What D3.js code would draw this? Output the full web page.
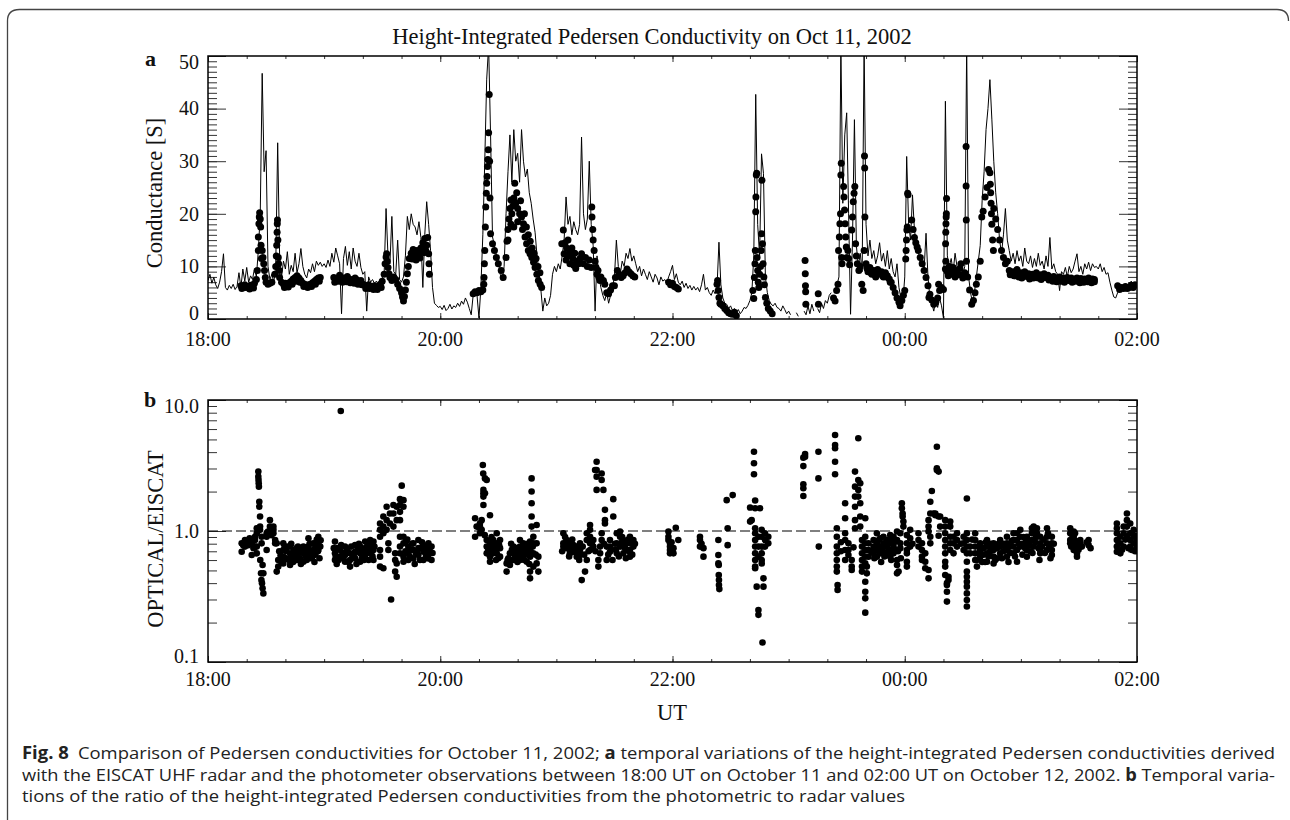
<!DOCTYPE html>
<html>
<head>
<meta charset="utf-8">
<script src="https://cdn.jsdelivr.net/npm/d3@7"></script>
<style>
  body { margin: 0; background: #fff; }
  svg text { fill: #111; }
  .serif { font-family: "Liberation Serif", "DejaVu Serif", serif; }
  .cap { font-family: "Open Sans", "Noto Sans", sans-serif; font-size: 17px; fill: #222; }
</style>
</head>
<body>
<div id="chart"></div>
<script>
// ---- data (time = minutes after 18:00 UT on Oct 11) ----
const xTickMinutes = [0, 120, 240, 360, 480];
const xTickLabels  = ["18:00", "20:00", "22:00", "00:00", "02:00"];
const condTicks    = [0, 10, 20, 30, 40, 50];
const ratioTicks   = [0.1, 1, 10];
const ratioTickLabels = ["0.1", "1.0", "10.0"];

// EISCAT conductance, one value per minute from 18:00 (null = no data)
const condLine = [
  7.3, 8.5, 6.8, 7.9, 6.5, 5.8, 7.0, 9.0, 12.4, 6.0, 5.5, 6.4, 5.8, 6.6, 5.6, 6.2, 8.8, 6.0, 9.5, 7.2,
  9.8, 7.0, 8.2, 7.5, 9.6, 8.0, 13.0, 20.0, 46.7, 28.0, 32.0, 10.0, 7.5, 8.5, 7.0, 10.0, 33.5, 12.0, 8.0, 11.0,
  9.5, 12.8, 8.5, 10.2, 9.0, 12.5, 8.8, 10.5, 13.4, 10.0, 8.5, 7.8, 9.5, 8.8, 10.5, 9.0, 11.0, 10.2, 10.8, 10.0,
  10.5, 9.8, 11.2, 10.0, 12.5, 10.8, 13.5, 12.0, 10.5, 1.0, 11.5, 13.8, 10.2, 12.8, 9.5, 13.5, 11.0, 10.0, 12.5, 9.8,
  8.5, 9.0, 1.5, 8.0, 7.0, 7.5, 6.8, 7.2, 6.5, 7.0, 7.8, 8.5, 21.0, 12.0, 10.5, 19.5, 9.0, 8.5, 15.0, 7.5,
  7.0, 8.0, 12.0, 19.5, 17.0, 20.0, 18.0, 17.5, 16.0, 18.5, 15.5, 6.0, 16.0, 22.3, 18.0, 13.0, 6.0, 3.0, 2.6, 2.2,
  2.4, 1.8, 2.6, 1.6, 2.0, 2.8, 1.9, 2.5, 2.2, 3.0, 2.4, 3.4, 2.8, 4.0, 3.2, 2.0, 0.8, 4.5, 5.0, 4.5,
  0.2, 6.0, 16.0, 30.0, 45.6, 52, 35.0, 15.6, 14.0, 12.0, 11.0, 8.5, 7.3, 10.0, 20.0, 28.0, 35.0, 26.0, 36.0, 30.0,
  31.5, 26.0, 36.0, 30.0, 27.0, 28.5, 24.0, 22.0, 19.0, 16.5, 12.0, 9.0, 5.5, 1.5, 4.0, 2.5, 3.0, 4.5, 8.5, 10.0,
  9.0, 10.5, 9.5, 12.0, 15.0, 23.2, 18.0, 19.5, 16.0, 18.5, 17.0, 16.0, 18.0, 34.6, 20.0, 17.0, 19.0, 30.0, 18.0, 14.0,
  1.5, 12.0, 8.0, 6.0, 4.5, 3.5, 5.0, 3.0, 4.5, 6.0, 8.0, 15.0, 10.0, 8.5, 11.0, 10.0, 12.5, 11.5, 13.4, 11.0,
  12.0, 10.5, 9.0, 10.0, 8.2, 9.5, 8.5, 7.5, 9.0, 8.0, 7.0, 8.5, 7.8, 6.5, 8.0, 7.2, 7.5, 6.8, 8.0, 9.0,
  10.2, 7.5, 8.6, 7.0, 6.5, 7.2, 6.0, 6.8, 5.8, 6.4, 5.5, 6.2, 5.5, 6.0, 5.2, 6.5, 8.5, 5.5, 6.0, 5.0,
  4.5, 5.5, 4.8, 6.0, 14.6, 6.5, 4.0, 3.0, 2.8, 2.0, 2.5, 1.6, 2.0, 1.2, 1.8, 1.0, 1.5, 2.2, 2.0, 2.6,
  3.5, 5.0, 12.0, 42.7, 18.0, 12.0, 31.4, 27.7, 8.0, 5.0, 3.5, 2.8, 2.5, 3.0, 2.2, 2.0, 1.5, 2.5, 1.8, 1.0,
  1.5, 0.8, null, null, 1.2, 0.5, null, null, 1.5, 0.8, 2.5, 1.0, 2.8, 1.5, null, 2.0, 1.2, 3.0, 2.0, 3.5,
  3.0, 4.5, 5.0, null, 5.5, 6.5, 8.0, 52, 22.0, 35.0, 39.2, 20.0, 0.9, 15.0, 37.9, 14.0, 10.0, 12.5, 9.0, 52,
  18.0, 12.0, 15.0, 11.5, 13.0, 10.5, 12.0, 14.5, 11.0, 12.5, 10.0, 13.0, 9.5, 11.5, 9.0, 8.0, 10.5, 6.0, 4.0, 3.0,
  8.0, 30.9, 18.0, 15.0, 23.6, 17.0, 14.0, 13.0, 10.5, 12.0, 9.5, 16.3, 8.0, 4.0, 3.0, 1.5, 3.5, 2.2, 4.0, 2.5,
  0.2, 41.4, 12.0, 10.0, 11.5, 9.0, 12.5, 10.0, 9.5, 11.0, 8.5, 10.0, 52, 8.0, 5.0, 3.0, 5.0, 8.0, 11.0, 14.0,
  22.6, 28.0, 36.0, 40.0, 45.5, 38.0, 30.0, 24.0, 20.0, 15.0, 12.5, 16.0, 21.0, 15.0, 13.0, 11.0, 12.5, 10.5, 13.0, 11.0,
  12.0, 10.0, 13.5, 11.0, 10.5, 12.0, 9.8, 11.5, 10.0, 12.5, 10.2, 11.0, 9.5, 12.0, 10.0, 15.5, 9.5, 10.5, 9.0, 8.5,
  5.4, 9.0, 8.5, 9.8, 8.0, 10.0, 8.8, 9.5, 11.0, 12.4, 9.0, 10.0, 8.5, 10.5, 9.5, 10.8, 9.2, 10.5, 9.8, 10.0,
  9.5, 10.5, 9.0, 9.8, 8.5, 8.8, 7.0, 5.5, 4.2, 4.0, 5.0, 5.8, 5.2, 6.2, 5.5, 6.5, 6.0, 7.2, 6.5, 7.0, 6.8
];

// photometer conductance [minute, S]
const condDots = [
  [17,6.3],[18,6.0],[19,6.5],[20,6.2],[21,6.0],[22,6.4],[23,6.3],[24,6.8],[25,7.5],
  [17.5,5.8],[19.5,6.0],[21.5,5.7],[23.5,5.9],
  [25.5,9.2],[26,13],[26,15.6],[26.3,18.1],[26.5,19.4],[26.7,20.2],[27,19],[27.2,17.5],[27.4,14],[27.6,11.5],[28,13],[28.4,11.7],[28.8,10.5],[29.2,9.2],[29.6,7.9],[30,7],[31,6.6],[32,6.8],[33,7],
  [34.5,8.5],[35,10],[35.3,12],[35.5,14],[35.7,16.5],[35.8,18.1],[35.9,18.8],[36.1,15],[36.3,11.7],[36.5,10.5],[36.8,9.2],[37,7.9],[38,7],
  [39,6.6],[40,6.8],[41,6.5],[42,6.9],[43,7.2],[44,7.6],[45,7.9],[46,8.2],[47,7.8],[48,7.3],[49,6.8],[50,6.6],[51,6.3],[52,6.5],[53,6.6],[54,6.9],[55,7.2],[56,7.5],[57,7.8],[58,7.9],
  [39.5,6.0],[41.5,6.1],[43.5,6.6],[45.5,7.2],[47.5,7.0],[49.5,6.2],[51.5,6.0],[53.5,6.2],[55.5,6.6],[57.5,7.2],
  [65,7.9],[66,7.5],[67,7.8],[68,8.3],[69,7.9],[70,7.5],[71,7.8],[72,8.1],[73,7.6],[74,7.3],[75,7.5],[76,7.8],[77,7.4],[78,7.1],[79,7.3],[80,6.6],[81,6.4],[82,6.2],[83,6.5],[84,6.0],[85,6.2],[86,6.3],[87,6.0],[88,6.2],[89,6.6],[90,7.2],
  [65.5,7.0],[67.5,7.2],[69.5,7.0],[71.5,7.1],[73.5,6.9],[75.5,6.8],[77.5,6.6],[79.5,6.5],[81.5,5.8],[83.5,5.8],[85.5,5.6],[87.5,5.6],[89.5,6.0],
  [91,8.5],[91.5,10.5],[92,11.8],[92.3,12.4],[92.6,11],[93,9.8],[93.5,8.6],[94,7.9],[95,7.3],[96,8.0],[97,7.5],[98,6.6],[99,5.8],[100,5.0],[100.5,4.2],[101,3.4],[101.5,4.3],[102,5.5],[102.5,7.0],[103,8.6],[103.5,10],[104,11.5],[105,12.5],[106,13.2],[107,12.0],[108,13.0],[109,12.4],[110,13.5],[111,14.5],[112,15.3],[112.5,13.0],[113,14.0],[113.5,15.5],[114,12.4],[114.2,10.5],[114.4,8.5],
  [105.5,11.4],[107.5,11.2],[109.5,11.6],[111.5,12.6],
  [137,4.8],[138,5.2],[139,5.0],[140,5.4],[141,5.2],[142,5.5],
  [142.5,6.6],[142.6,7.9],[142.8,10.5],[143,13],[143.3,17.5],[143.5,21.3],[143.8,23.9],[144,25.8],[144.2,27.1],[144.4,29],[144.6,30.3],[144.8,32.2],[145,35.4],[145.3,42.7],[145.5,30],[145.7,23],
  [146,16.2],[147,14.3],[148,13],[149,11.7],[150,10.5],[151.5,9.2],[152.5,7.9],
  [154,11.7],[154.5,14.8],[155,17],[155.5,19],[156,21],[156.5,22.6],[157,20],[157.5,21.5],[158,23],[158.5,25.8],[159,22],[159.5,24],[160,21],[161,20],[162,19.4],
  [155,15],[156.5,18],[158,17.5],[160,18.5],[161.5,22.5],[162.5,17],
  [163,18.1],[163.8,15.6],[164.6,14.3],[165.5,13],[166.4,12.4],[167.3,11.7],[168.2,10.8],[169,9.8],[169.9,8.5],[170.7,7.3],[171.6,6.6],[172.4,6],
  [163.5,20],[164.5,17.5],[165.5,16],[166.5,14.8],[167.5,13.5],[168.5,12.5],[169.5,11.5],[170.5,10],[171.5,8.8],
  [182.8,14.3],[183.6,16.9],[184.5,14.5],[185.3,13.5],[186,15],[186.8,13],[187.5,12],[188.5,11.5],[189.5,12.5],[190.5,11],[191.5,10.5],[192.2,11.5],
  [184,12.4],[185,11.2],[186,12],[187,10.5],[188,13.5],[189,10.2],[190,9.6],
  [193,12.4],[194,10.5],[195,11.7],[196,10],[197,11.2],[198,9.8],[198.3,21.3],[198.4,19.4],[198.8,17],[199,15],
  [199.5,13],[200,11],[200.5,9.8],[201,8.5],[201.5,9.2],[202,7.9],[202.5,7.3],[203,8],
  [204.3,7.3],[205,6.6],[206,5],[207,4.8],[208,5.5],[209,6.3],[210,6.3],
  [210.5,7.9],[211.5,9.2],[212.5,8.5],[213.5,7.9],[214.5,8.2],[215.5,8.8],[216.5,9.5],[217.5,9],[218.5,8.6],[219.5,8.2],[220.5,8],
  [238,7],[239,6.5],[240,6.8],[241,6.2],[242,6],[243,5.7],
  [263,6.6],[263.3,7.3],[263.6,5.4],[264,4.1],[264.5,3],[265,2.8],
  [266,2.5],[267,2],[268,1.6],[269,1.2],[270,1],[271,0.9],[272,1.3],[273,0.6],
  [281.5,5.4],[282,3.9],[282.3,7.9],[282.6,10.5],[282.8,13],[283,20.4],[283.1,23.2],[283.3,27.4],[283.5,27.7],[283.7,11.7],[284,9.2],[284.3,7],[284.6,6],[285,8.5],[285.5,10],[285.8,13],[286,16.2],[286.2,26.4],[286.5,14.3],[286.8,10.5],[287.2,8],[287.5,6.5],
  [288,4.1],[288.7,3],[289.5,2],[290.5,1.5],[291.5,1],
  [308.5,11.1],[308.6,8.6],[308.7,6.3],[308.8,5.2],[308.9,2.8],
  [315.3,4.8],[315.4,2.8],
  [323.2,4],[324,3.4],[324.8,5.4],[325.5,6.6],[325.8,13],[326.2,15.6],[326.5,18.1],[326.8,20],[327,27.4],[327.2,29.6],[327.4,11.7],[327.6,10.5],
  [328.4,25.2],[328.6,23.2],[328.9,20.7],[329.2,18.1],[329.5,15.6],[329.8,13.7],[330.1,11.7],[330.6,13],[331,11.5],[331.5,10.3],
  [332.6,16.9],[333,19.4],[333.4,22.3],[333.8,23.9],[334.2,25.2],[334.6,14.3],[335,12],
  [335.5,10.5],[336.3,9.2],[337,10],[337.8,6.6],[338.5,5.4],[339,13],
  [339.2,31],[339.3,28.7],[339.4,19.4],
  [340,10.5],[341,9],[342,9.8],[343,8.5],[344,9.2],[345,8],[346,9.4],[347,8.6],[348,9],[349,8],[350,8.8],[351,8.2],[352,7.6],[353,7],[354,6],[355,5],[356,4],[357,3.2],[357.6,2.5],
  [340.5,9.6],[342.5,8.8],[344.5,8.4],[346.5,8.6],[348.5,8.2],[350.5,8],[352.5,7.0],
  [358.5,3.5],[359.3,4.5],[360,5.4],
  [360.5,11.4],[360.7,13],[360.9,15],[361.1,16.9],[361.3,17.5],[361.5,23.9],[361.7,23.6],
  [363.6,18.8],[364.3,17],[365,15.5],[365.7,14.5],[366.4,13.7],
  [367,13],[368,11.7],[369,10.5],[370,9.2],[371,7.9],[372,6.3],[372.5,4.1],
  [373,4.7],[374,3.6],[375,2.8],[376,3.2],[377,4],[377.5,6.6],
  [378,5.4],[379,6],[380,5.6],
  [381,9.5],[381.1,14.3],[381.2,11],[381.2,16.5],[381.3,18.1],[381.4,19.4],[381.5,20],[381.6,22.9],
  [382,9],[383,10],[384,8.5],[385,9.8],[386,8],[387,9.2],[388,8.4],[389,10.5],[390,7.8],[391,8.8],
  [382.5,8.2],[384.5,9.2],[386.5,8.8],[388.5,9.6],[390.5,8.5],
  [391.7,32.8],[391.7,25.3],[391.8,18.8],[391.9,11],
  [392.5,8],[393.5,5.5],[394.6,2.8],[395.5,3.5],[396.3,5],[397,6.6],[398,8],[399,11],
  [399.8,19.4],[400.5,20.5],[401.5,23.2],[402.5,25],[403.3,28.4],[404,27.8],[404.2,25.6],[404.4,24],[404.6,22],[404.8,20],[405,18],[405.4,15],[405.8,13],
  [406,21],[407,19],[408,17],[409,15],[410,13],
  [411,11.7],[412,10.5],[413,11],
  [414,9.2],[415,8.5],[416,9],[417,8.2],[418,9.4],[419,8],[420,8.8],[421,8.3],[422,9],[423,8.1],[424,8.6],[425,7.9],[426,8.5],[427,8],[428,8.8],[429,7.8],[430,8.4],[431,8],[432,8.6],[433,7.9],[434,8.3],[435,8],[436,7.8],[437,8.1],
  [438,7.8],[439,7.5],[440,8],[441,7.6],[442,7.8],[443,7.4],[444,7.9],[445,7.5],[446,7.8],[447,7.3],[448,7.6],[449,7.8],[450,7.4],[451,7.7],[452,7.3],[453,7.6],[454,7.5],[455,7.8],[456,7.4],[457,7.6],[458,7.5],
  [414.5,8.4],[416.5,8.2],[418.5,8.6],[420.5,7.8],[422.5,8.3],[424.5,7.6],[426.5,7.8],[428.5,8],[430.5,7.5],[432.5,7.9],[434.5,7.4],[436.5,7.2],
  [438.5,7.1],[440.5,7.2],[442.5,7.0],[444.5,7.3],[446.5,7.0],[448.5,7.2],[450.5,6.9],[452.5,7.0],[454.5,7.1],[456.5,6.9],[458,7.1],
  [470,6.3],[471,5.6],[472,6],[473,5.8],[474,6.2],[475,5.8],[476,6],[477,6.4],[478,6],[479,6.5]
];

// OPTICAL / EISCAT ratio [minute, ratio]
const ratioDots = [
  [17.4,0.805],[17.4,0.695],[19.1,0.854],[19.1,0.76],[20.8,0.83],[20.8,0.78],[22.6,0.805],[22.6,0.656],[24.3,0.854],[24.3,0.76],[24.3,0.905],[18.2,0.78],[21.5,0.88],[23.5,0.74],
  [26.0,2.84],[26.0,2.6],[26.1,2.45],[26.2,2.31],[26.3,2.18],[26.5,1.67],[26.5,1.53],[26.9,1.29],[26.9,1.08],[26.9,1.02],[25.2,1.05],[25.2,0.96],[25.2,0.76],[25.2,0.675],[27.7,0.905],[27.7,0.805],
  [27.0,0.60],[27.4,0.475],[27.6,0.422],[27.9,0.40],[28.2,0.365],[28.6,0.334],[28.6,0.475],[28.2,0.55],
  [30.3,0.905],[30.3,0.96],[30.3,0.716],[32.0,1.21],[32.0,1.08],[33.8,1.08],[33.8,1.02],[33.8,0.96],[34.7,0.854],[34.7,0.805],[35.5,0.805],[35.5,0.49],[31,0.99],[32.8,0.93],
  [36.3,0.60],[36.3,0.535],[38.9,0.805],[38.9,0.716],[38.9,0.637],[38.9,0.566],[42.4,0.76],[42.4,0.675],[42.4,0.55],[45.8,0.74],[45.8,0.675],[45.8,0.60],[49.3,0.76],[49.3,0.675],[49.3,0.583],[51.9,0.88],[51.9,0.76],[51.9,0.675],[54.4,0.805],[54.4,0.716],[57.0,0.905],[57.0,0.805],[57.0,0.716],
  [37.5,0.65],[40.5,0.70],[40.5,0.62],[41.2,0.76],[43.5,0.64],[44.3,0.72],[47,0.68],[47.5,0.62],[48.2,0.72],[50.5,0.64],[50.5,0.72],[53,0.7],[53,0.62],[55.5,0.76],[55.5,0.66],[56.2,0.86],[58,0.76],
  [36.8,0.7],[37.9,0.58],[39.6,0.76],[41.8,0.6],[43,0.8],[44,0.58],[45.2,0.66],[46.5,0.76],[48,0.56],[49.8,0.7],[51,0.6],[52.5,0.8],[54,0.64],[55,0.58],[56.8,0.7],[57.6,0.62],[58.2,0.85],
  [68.6,8.24],
  [65.6,0.83],[65.6,0.675],[65.6,0.60],[68.2,0.716],[68.2,0.637],[70.8,0.76],[70.8,0.656],[70.8,0.583],[73.4,0.675],[73.4,0.535],[73.4,0.60],[76,0.78],[76,0.695],[76,0.618],[78.6,0.76],[78.6,0.675],[78.6,0.583],[81.2,0.83],[81.2,0.74],[81.2,0.656],[83.8,0.854],[83.8,0.76],[83.8,0.675],[85.5,0.83],[85.5,0.716],[85.5,0.60],
  [67,0.74],[69.5,0.68],[72,0.72],[74.7,0.64],[77.3,0.72],[80,0.70],[82.5,0.79],[84.6,0.7],[66.5,0.56],[79.5,0.62],
  [65,0.74],[66,0.64],[67.5,0.6],[68.8,0.78],[70,0.62],[71.5,0.7],[72.6,0.58],[74,0.76],[75.3,0.66],[76.7,0.56],[78,0.8],[79,0.7],[80.6,0.6],[82,0.7],[83,0.6],[84.2,0.8],[85,0.64],[86,0.76],
  [88.9,1.14],[88.9,1.02],[88.9,0.905],[90.6,1.29],[90.6,1.08],[90.6,0.96],[92.3,1.53],[92.3,1.21],[92.3,1.02],[94,1.36],[94,1.14],[95.8,1.58],[95.8,1.36],[95.8,1.08],[97.5,1.53],[97.5,1.21],[99.2,1.75],[99.2,1.58],[99.2,1.4],[99.2,1.21],[100.1,2.22],[101,1.72],[101,1.53],
  [88.9,0.716],[88.9,0.637],[88.9,0.535],[90.6,0.519],[93.2,0.805],[93.2,0.716],[94.6,0.3],[96.7,0.675],[96.7,0.60],[96.7,0.49],[97.5,0.448],[97.5,0.566],[99.2,0.905],[99.2,0.76],[99.2,0.675],[101,0.905],[101,0.805],[101,0.637],[101,0.583],
  [103.5,0.76],[103.5,0.675],[103.5,0.60],[106.1,0.805],[106.1,0.716],[106.1,0.618],[108.7,0.854],[108.7,0.74],[108.7,0.656],[111.3,0.78],[111.3,0.695],[111.3,0.60],[113.9,0.805],[113.9,0.675],[113.9,0.618],[115.5,0.76],[115.5,0.60],
  [104.8,0.72],[107.4,0.68],[110,0.74],[112.6,0.64],[102.3,0.83],
  [102,0.7],[103,0.86],[104.2,0.64],[105.5,0.8],[106.8,0.56],[108,0.7],[109.5,0.6],[110.6,0.82],[112,0.72],[113.2,0.76],[114.6,0.7],[116,0.68],
  [138,1.25],[138,0.905],[138.8,1.08],[140.5,1.14],[140.5,1.08],[140.5,1.05],[140.5,0.96],[141.4,1.21],[141.4,1.02],[142,3.19],[142.2,2.75],[142.3,2.06],[142.3,1.94],[142.3,1.83],[142.3,1.58],[143.1,2.52],[143.1,1.94],[144,2.45],[145.7,1.32],
  [144,0.854],[144,0.76],[144,0.675],[145.7,0.805],[145.7,0.716],[145.7,0.637],[145.7,0.583],[147.4,0.854],[147.4,0.76],[147.4,0.675],[149.2,0.96],[149.2,0.805],[149.2,0.675],[150.9,0.854],[150.9,0.74],[150.9,0.637],[143,0.93],[146.5,0.9],[148.3,0.72],[150,0.62],
  [144.8,0.72],[146.8,0.8],[148.8,0.6],[150.4,0.78],
  [154.3,0.49],[154.3,0.566],[156,0.675],[156,0.60],[156,0.55],[157.8,0.76],[157.8,0.675],[157.8,0.60],[159.5,0.74],[159.5,0.637],[161.2,0.854],[161.2,0.76],[161.2,0.675],[161.2,0.60],[162.9,0.805],[162.9,0.716],[162.9,0.637],[164.7,0.76],[164.7,0.675],[164.7,0.583],[166.4,0.83],[166.4,0.716],[166.4,0.637],[166.4,0.49],[166.4,0.435],
  [167.2,2.52],[167.2,2.0],[167.2,1.63],[167.2,1.29],[167.2,1.08],[168.1,0.905],[168.1,0.805],[168.1,0.675],[168.1,0.535],[169.8,1.11],[169.8,0.805],[169.8,0.566],[170.7,0.637],[170.7,0.49],
  [155.2,0.62],[157,0.72],[158.6,0.64],[160.3,0.70],[162,0.66],[163.8,0.74],[165.5,0.66],
  [154.8,0.6],[156.6,0.8],[158.2,0.7],[159.9,0.58],[161.7,0.72],[163.4,0.6],[165,0.8],[166,0.56],[167.8,0.76],[169.3,0.66],
  [183.6,0.96],[183.6,0.805],[183.6,0.76],[185.3,0.854],[185.3,0.74],[187,0.805],[187,0.716],[187,0.675],[188.8,0.78],[188.8,0.695],[190.5,0.76],[190.5,0.675],[190.5,0.637],[192.2,0.805],[192.2,0.716],[192.2,0.656],[193.1,0.422],[194.8,0.49],
  [195.7,0.60],[195.7,0.854],[195.7,0.96],[197.4,1.11],[197.4,1.02],[197.4,0.905],[197.4,0.805],[197.4,0.716],[199.1,0.854],[199.1,0.76],
  [200,2.92],[200.8,3.38],[200.8,2.92],[200.8,2.6],[200.8,2.06],[203.4,2.75],[203.4,2.45],[204.3,2.06],[205.1,1.45],[205.1,1.21],[205.1,1.14],[209.4,1.75],[209.4,1.29],
  [203.4,0.96],[203.4,0.854],[201.7,0.535],[201.7,0.60],[202.6,0.76],[202.6,0.675],[206,0.60],[206,0.76],[207.7,0.854],[207.7,0.76],[207.7,0.695],[211.2,0.96],[211.2,0.805],[211.2,0.675],[212.9,0.99],[212.9,0.905],[212.9,0.76],
  [214.6,0.854],[214.6,0.76],[214.6,0.675],[216.3,0.805],[216.3,0.716],[218,0.905],[218,0.805],[218,0.716],[218,0.637],[219.8,0.854],[219.8,0.76],
  [184.5,0.9],[186.2,0.78],[189.6,0.74],[191.3,0.7],[208.5,0.72],[210.3,0.8],[213.8,0.82],[215.5,0.74],[217.2,0.86],[198.3,0.8],
  [183,0.7],[184.8,0.8],[186.6,0.64],[188.2,0.86],[190,0.7],[191.8,0.6],[193.6,0.76],[194.4,0.66],[196.6,0.7],[200.2,0.7],[204.6,0.8],[206.8,0.66],[209,0.6],[210.8,0.72],[212.3,0.64],[214,0.9],[215.9,0.62],[217.6,0.7],[219.2,0.66],[220.6,0.8],
  [237.9,0.99],[237.9,0.905],[237.9,0.854],[238.7,0.805],[238.7,0.76],[238.7,0.716],[238.7,0.675],[240.5,0.675],[240.5,0.74],[241.7,1.06],[243,0.854],[239.5,0.82],
  [254.2,0.905],[254.2,0.854],[254.2,0.76],[256,0.74],[256,0.637],[255,0.8],
  [263.7,0.854],[263.7,0.656],[263.7,0.566],[263.9,0.55],[263.9,0.461],[264,0.422],[264,0.387],[264.2,0.36],
  [268,1.72],[268.5,1.05],[268.5,0.78],[271.1,1.88],
  [282.1,4.03],[282.1,3.29],[282.1,2.71],[282.7,1.71],[282.7,1.49],[280.1,1.51],[280.1,1.18],[280.9,1.21],[285.2,1.49],
  [282.7,1.05],[282.7,0.96],[282.7,0.854],[282.7,0.76],[282.7,0.675],[282.7,0.60],[282.7,0.535],[282.7,0.519],[284.4,0.905],[284.4,0.76],[284.4,0.637],
  [286.1,1.02],[286.1,0.905],[286.1,0.76],[286.1,0.675],[286.1,0.60],[286.1,0.566],[287.8,0.96],[287.8,0.854],[287.8,0.76],[289.5,0.905],[289.5,0.805],
  [283.5,0.376],[287,0.435],[287,0.376],[284.4,0.249],[284.4,0.229],[286.5,0.141],
  [307.6,3.63],[307.6,3.13],[307.6,2.27],[307.6,2.12],[307.6,1.85],[308.5,3.87],[308.5,3.69],[315.4,4.03],[315.4,2.52],[315.6,0.76],
  [324,5.4],[324,4.53],[324,4.28],[324,3.38],[324,2.71],[324.9,1.05],[324.9,0.905],[324.9,0.76],[324.9,0.675],[324.9,0.60],[324.9,0.535],[324.9,0.49],[325.3,0.387],[325.3,0.355],
  [329.2,1.63],[329.2,1.25],[329.2,0.96],[329.2,0.854],[329.2,0.716],[329.2,0.60],[330.9,0.805],[330.9,0.716],[330.9,0.656],
  [334.3,2.84],[334.3,2.18],[334.3,1.83],[334.3,1.53],[334.3,1.21],[334.3,1.05],[336,5.1],[336,2.45],[336,2.06],[336,1.83],[332.6,0.60],[332.6,0.535],[332.6,0.504],[327,0.7],[327,0.82],[333.5,0.75],
  [337,1.63],[337,1.29],[337,1.08],[337,2.31],[337.9,0.854],[337.9,0.76],[337.9,0.675],[337.9,0.60],[337.9,0.535],[337.9,0.49],
  [339.6,1.25],[339.6,0.905],[339.6,0.805],[339.6,0.716],[339.6,0.637],[339.6,0.566],[339.6,0.41],[339.6,0.344],[339.6,0.306],[339.6,0.238],[340.4,0.475],[340.4,0.535],[341.3,0.805],[341.3,0.716],[341.3,0.637],
  [343.9,0.854],[343.9,0.76],[343.9,0.675],[345.6,0.96],[345.6,0.805],[345.6,0.716],[345.6,0.637],[347.3,0.88],[347.3,0.76],[347.3,0.675],[349,0.905],[349,0.805],[349,0.695],[350.8,0.854],[350.8,0.76],[350.8,0.656],
  [352.5,0.93],[352.5,0.805],[352.5,0.716],[352.5,0.637],[354.2,0.905],[354.2,0.76],[354.2,0.675],[356,0.99],[356,0.854],[356,0.60],[356,0.55],[356,0.475],[356.8,0.49],[357.7,0.96],[357.7,0.805],[357.7,0.74],
  [344.8,0.72],[346.4,0.85],[348.2,0.72],[349.9,0.78],[351.6,0.7],[353.4,0.84],[355.1,0.72],
  [342.6,0.7],[344.3,0.62],[346,0.76],[347.8,0.58],[349.5,0.64],[351.2,0.84],[353,0.6],[354.6,0.82],[356.5,0.7],[358,0.62],
  [358.5,1.63],[358.5,1.49],[358.9,1.36],[358.9,1.29],[359.3,1.18],[359.3,1.08],[361.1,0.93],[361.1,0.805],[361.1,0.716],[361.1,0.675],[362.8,1.02],[362.8,0.88],[362.8,0.76],[361.1,0.583],[361.1,0.535],[364,0.8],
  [367.1,0.96],[367.1,0.854],[367.1,0.76],[368.9,0.805],[368.9,0.716],[368.9,0.637],[368.9,0.60],[370.6,0.675],[370.6,0.583],[370.6,0.519],[372.3,0.504],[372.3,0.435],[373.2,0.905],[373.2,0.805],
  [372.3,0.99],[372.3,1.08],[372.3,1.21],[373.2,1.36],[373.2,1.67],[374,2.02],[374.9,1.36],[375.8,1.36],[375.8,1.32],[376.6,2.92],[376.6,4.4],[376.6,3.01],[377.5,2.84],[377.5,1.29],[378.3,1.29],[378.3,1.08],[377.5,0.92],
  [380.9,1.21],[380.9,1.08],[380.9,0.96],[380.9,0.854],[380.9,0.76],[380.9,0.675],[380.9,0.583],[380.9,0.535],[380.9,0.461],[381.8,0.40],[381.8,0.387],[381.8,0.344],[381.8,0.289],[382.6,0.448],[382.6,0.422],
  [383.5,1.18],[383.5,1.08],[383.5,0.905],[383.5,0.805],[383.5,0.716],[385.2,0.905],[385.2,0.805],[385.2,0.675],[387,0.96],[387,0.854],[387,0.76],
  [392.1,1.77],[392.1,0.96],[392.1,0.854],[392.1,0.76],[392.1,0.675],[392.1,0.583],[392.1,0.49],[392.1,0.448],[392.1,0.41],[392.1,0.376],[392.1,0.334],[392.1,0.297],[392.1,0.265],
  [390.4,0.905],[390.4,0.805],[390.4,0.716],[393.8,0.76],[393.8,0.675],[396.4,0.96],[396.4,0.854],[396.4,0.76],[396.4,0.675],[396.4,0.60],[389,0.8],[394.8,0.86],
  [397.3,0.60],[397.3,0.535],[399,0.805],[399,0.716],[399,0.637],[402.5,0.854],[402.5,0.76],[402.5,0.675],[402.5,0.583],[405.9,0.805],[405.9,0.716],[405.9,0.637],[405.9,0.566],
  [409.3,0.854],[409.3,0.76],[409.3,0.675],[412.8,0.905],[412.8,0.805],[412.8,0.716],[412.8,0.637],[416.2,0.96],[416.2,0.854],[416.2,0.76],[416.2,0.675],
  [400.7,0.74],[400.7,0.66],[404.2,0.8],[404.2,0.7],[407.6,0.74],[407.6,0.62],[411,0.8],[411,0.7],[414.5,0.76],[414.5,0.68],[398.2,0.76],[401.5,0.58],
  [398.6,0.68],[400,0.58],[401.9,0.82],[403.3,0.64],[405,0.76],[406.8,0.6],[408.5,0.8],[410.2,0.62],[412,0.76],[413.6,0.58],[415.3,0.84],[417,0.64],
  [418,0.96],[418,0.854],[418,0.716],[418,0.583],[419.7,1.02],[419.7,0.905],[419.7,0.76],[421.4,0.9],[423.1,0.905],[423.1,0.805],[423.1,0.716],[423.1,0.637],
  [425.7,1.05],[425.7,0.96],[425.7,0.854],[426.6,1.08],[426.6,0.96],[426.6,0.854],[426.6,0.76],[428.3,1.05],[428.3,0.96],[430,0.905],[430,0.805],[430,0.716],[430,0.675],
  [433.5,1.05],[433.5,0.905],[433.5,0.805],[433.5,0.716],[436,0.905],[436,0.805],[436,0.716],[436,0.656],
  [424.4,0.78],[427.4,0.82],[429.1,0.74],[431.7,0.86],[434.7,0.76],[420.5,0.8],[422.2,0.74],
  [418.8,0.8],[420.8,0.66],[422.6,0.84],[424.9,0.7],[426,0.68],[427.9,0.9],[429.6,0.6],[431,0.76],[432.4,0.68],[434,0.96],[435.3,0.62],[437,0.8],
  [445.5,1.05],[445.5,0.96],[445.5,0.854],[445.5,0.805],[447.3,0.99],[447.3,0.905],[447.3,0.78],[447.3,0.716],[449,0.76],[449,0.675],[449,0.637],[450.7,0.854],[450.7,0.805],[455,0.854],[455,0.78],[446.5,0.88],[448.2,0.84],
  [446,0.76],[448,0.96],[449.8,0.72],[451.5,0.76],[454,0.82],[456,0.74],
  [469.6,1.14],[469.6,1.05],[469.6,0.96],[469.6,0.854],[469.6,0.76],[469.6,0.695],[471.4,0.905],[471.4,0.805],[471.4,0.675],[473.1,1.08],[473.1,0.96],[473.1,0.76],
  [474.8,1.36],[474.8,1.21],[474.8,1.08],[474.8,0.905],[476.5,1.14],[476.5,0.96],[476.5,0.854],[476.5,0.76],[477.4,0.716],[478.3,1.02],[478.3,0.905],[478.3,0.805],[480,0.854],[480,0.76],
  [470.5,0.8],[472.3,0.72],[474,0.86],[475.6,0.74],[477,0.96],[479,0.7],[479.6,0.92]
];

// ---- layout ----
const W = 1290, H = 820;
const plot = { left: 208, right: 1137 };
const svg = d3.select("#chart").append("svg")
  .attr("width", W).attr("height", H);

// figure frame (open on the right)
svg.append("path")
  .attr("d", "M7.5,820 L7.5,21 Q7.5,9.5 19.5,9.5 L1277,9.5 Q1288.5,9.5 1288.5,21")
  .attr("fill", "none").attr("stroke", "#444").attr("stroke-width", 1.3);

const x = d3.scaleLinear().domain([0, 480]).range([plot.left, plot.right]);
const yA = d3.scaleLinear().domain([0, 50]).range([319, 56]);
const yB = d3.scaleLog().domain([0.1, 10]).range([662, 400]);

const xMinor = d3.range(0, 481, 20);

function clipFor(id, y) {
  svg.append("clipPath").attr("id", id)
    .append("rect")
      .attr("x", plot.left).attr("y", y.range()[1])
      .attr("width", plot.right - plot.left)
      .attr("height", y.range()[0] - y.range()[1]);
}

function frame(y, yMinor, yMajor, bottomLabelY) {
  const top = y.range()[1], bottom = y.range()[0];
  // x ticks, top and bottom, pointing inward
  [[xMinor, 3], [xTickMinutes, 6]].forEach(([vals, len]) => {
    svg.append("g").attr("transform", `translate(0,${bottom})`).attr("color", "#333")
      .call(d3.axisBottom(x).tickValues(vals).tickSize(-len).tickFormat(""))
      .call(g => g.select(".domain").remove());
    svg.append("g").attr("transform", `translate(0,${top})`).attr("color", "#333")
      .call(d3.axisTop(x).tickValues(vals).tickSize(-len).tickFormat(""))
      .call(g => g.select(".domain").remove());
  });
  // y ticks, left and right
  [[yMinor, 9], [yMajor, 18]].forEach(([vals, len]) => {
    svg.append("g").attr("transform", `translate(${plot.left},0)`).attr("color", "#333")
      .call(d3.axisLeft(y).tickValues(vals).tickSize(-len).tickFormat(""))
      .call(g => g.select(".domain").remove());
    svg.append("g").attr("transform", `translate(${plot.right},0)`).attr("color", "#333")
      .call(d3.axisRight(y).tickValues(vals).tickSize(-len).tickFormat(""))
      .call(g => g.select(".domain").remove());
  });
  // x tick labels
  svg.append("g").attr("class", "serif")
    .selectAll("text").data(xTickMinutes).enter().append("text")
      .attr("x", d => x(d)).attr("y", bottomLabelY)
      .attr("text-anchor", "middle").attr("font-size", 20)
      .text((d, i) => xTickLabels[i]);
  // box
  svg.append("rect")
    .attr("x", plot.left).attr("y", top)
    .attr("width", plot.right - plot.left).attr("height", bottom - top)
    .attr("fill", "none").attr("stroke", "#000").attr("stroke-width", 1.5);
}

function yLabels(y, vals, labels) {
  const top = y.range()[1], bottom = y.range()[0];
  svg.append("g").attr("class", "serif")
    .selectAll("text").data(vals).enter().append("text")
      .attr("x", 199)
      .attr("y", d => {
        const p = y(d);
        if (Math.abs(p - top) < 1) return p + 6;
        if (Math.abs(p - bottom) < 1) return p - 6;
        return p;
      })
      .attr("dy", "0.34em")
      .attr("text-anchor", "end").attr("font-size", 20)
      .text((d, i) => labels[i]);
}

// ---- title ----
svg.append("text").attr("class", "serif")
  .attr("x", 652).attr("y", 44).attr("text-anchor", "middle")
  .attr("font-size", 22.5)
  .text("Height-Integrated Pedersen Conductivity on Oct 11, 2002");

// ---- panel a ----
clipFor("clipA", yA);
frame(yA, d3.range(0, 51, 1), condTicks, 346);
yLabels(yA, condTicks, condTicks.map(String));

const line = d3.line()
  .defined(d => d != null)
  .x((d, i) => x(i))
  .y(d => yA(d));

svg.append("path")
  .datum(condLine)
  .attr("clip-path", "url(#clipA)")
  .attr("fill", "none").attr("stroke", "#000").attr("stroke-width", 1)
  .attr("d", line);

svg.append("g").attr("clip-path", "url(#clipA)")
  .selectAll("circle").data(condDots).enter().append("circle")
    .attr("cx", d => x(d[0])).attr("cy", d => yA(d[1]))
    .attr("r", 3.5).attr("fill", "#000");

svg.append("text").attr("class", "serif")
  .attr("x", 145).attr("y", 66).attr("font-size", 22).attr("font-weight", "bold")
  .text("a");
svg.append("text").attr("class", "serif")
  .attr("transform", "translate(162,193) rotate(-90)")
  .attr("text-anchor", "middle").attr("font-size", 22.5)
  .text("Conductance [S]");

// ---- panel b ----
clipFor("clipB", yB);
const logMinor = [0.2, 0.3, 0.4, 0.5, 0.6, 0.7, 0.8, 0.9, 2, 3, 4, 5, 6, 7, 8, 9];
frame(yB, logMinor, ratioTicks, 686);
yLabels(yB, ratioTicks, ratioTickLabels);

svg.append("line")
  .attr("x1", plot.left).attr("x2", plot.right)
  .attr("y1", yB(1)).attr("y2", yB(1))
  .attr("stroke", "#000").attr("stroke-width", 1)
  .attr("stroke-dasharray", "10,4");

svg.append("g").attr("clip-path", "url(#clipB)")
  .selectAll("circle").data(ratioDots).enter().append("circle")
    .attr("cx", d => x(d[0])).attr("cy", d => yB(d[1]))
    .attr("r", 3.3).attr("fill", "#000");

svg.append("text").attr("class", "serif")
  .attr("x", 144).attr("y", 407).attr("font-size", 22).attr("font-weight", "bold")
  .text("b");
svg.append("text").attr("class", "serif")
  .attr("transform", "translate(163,539) rotate(-90)")
  .attr("text-anchor", "middle").attr("font-size", 22.5)
  .text("OPTICAL/EISCAT");

svg.append("text").attr("class", "serif")
  .attr("x", 672).attr("y", 720).attr("text-anchor", "middle")
  .attr("font-size", 22.5)
  .text("UT");

// ---- caption ----
const cap1 = svg.append("text").attr("class", "cap")
  .attr("x", 22).attr("y", 759)
  .attr("textLength", 1253).attr("lengthAdjust", "spacingAndGlyphs");
cap1.append("tspan").attr("font-weight", "bold").text("Fig. 8");
cap1.append("tspan").text("\u2002Comparison of Pedersen conductivities for October 11, 2002; ");
cap1.append("tspan").attr("font-weight", "bold").text("a");
cap1.append("tspan").text(" temporal variations of the height-integrated Pedersen conductivities derived");

const cap2 = svg.append("text").attr("class", "cap")
  .attr("x", 22).attr("y", 781)
  .attr("textLength", 1253).attr("lengthAdjust", "spacingAndGlyphs");
cap2.append("tspan").text("with the EISCAT UHF radar and the photometer observations between 18:00 UT on October 11 and 02:00 UT on October 12, 2002. ");
cap2.append("tspan").attr("font-weight", "bold").text("b");
cap2.append("tspan").text(" Temporal varia-");

svg.append("text").attr("class", "cap")
  .attr("x", 22).attr("y", 802)
  .attr("textLength", 883).attr("lengthAdjust", "spacingAndGlyphs")
  .text("tions of the ratio of the height-integrated Pedersen conductivities from the photometric to radar values");
</script>
</body>
</html>
